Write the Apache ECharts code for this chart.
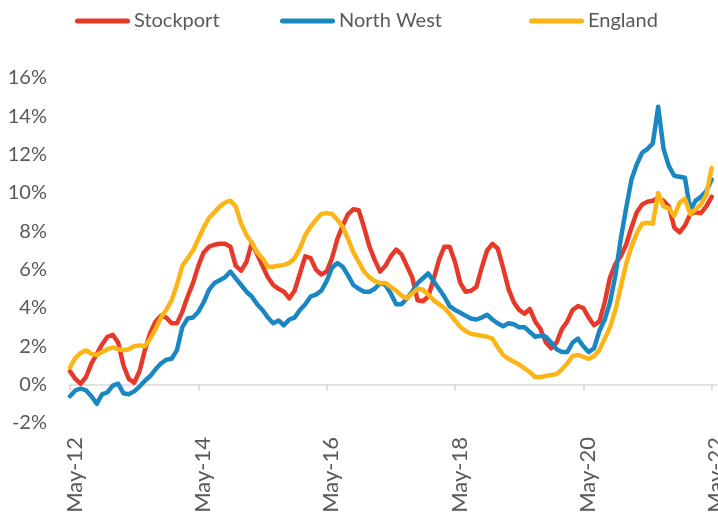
<!DOCTYPE html>
<html>
<head>
<meta charset="utf-8">
<script src="https://cdn.jsdelivr.net/npm/echarts@6/dist/echarts.min.js"></script>
<style>
html,body{margin:0;padding:0;background:#fff;}
#chart{width:718px;height:513px;}
</style>
</head>
<body>
<div id="chart"></div>
<script>
// Month categories May-12 .. Jun-22 (last one is an empty slot at the plot edge)
const monthNames = ['Jan','Feb','Mar','Apr','May','Jun','Jul','Aug','Sep','Oct','Nov','Dec'];
const categories = [];
for (let k = 0; k < 122; k++) {
  const m = (4 + k) % 12;
  const y = 12 + Math.floor((4 + k) / 12);
  categories.push(monthNames[m] + '-' + y);
}

const seriesNames = ['Stockport', 'North West', 'England'];

const stockport = [
  0.7, 0.3, 0.05, 0.4, 1.1, 1.6, 2.1, 2.5, 2.6, 2.2,
  1.0, 0.3, 0.1, 0.7, 1.8, 2.7, 3.3, 3.6, 3.5, 3.2,
  3.2, 3.8, 4.6, 5.3, 6.2, 6.9, 7.2, 7.3, 7.35, 7.35,
  7.2, 6.2, 5.95, 6.4, 7.4, 6.8, 6.2, 5.6, 5.2, 5.0,
  4.85, 4.5, 4.9, 5.8, 6.7, 6.6, 6.0, 5.75, 5.9, 6.6,
  7.6, 8.3, 8.9, 9.15, 9.1, 8.2, 7.2, 6.5, 5.9, 6.2,
  6.7, 7.05, 6.8, 6.2, 5.6, 4.4, 4.35, 4.6, 5.5, 6.5,
  7.2, 7.2, 6.4, 5.3, 4.85, 4.9, 5.1, 6.1, 7.0, 7.35,
  7.1, 6.1, 5.0, 4.3, 3.9, 3.7, 3.95, 3.3, 2.9, 2.2,
  1.9, 2.2, 2.9, 3.3, 3.9, 4.1, 4.0, 3.5, 3.1, 3.3,
  4.3, 5.6, 6.3, 6.7, 7.3, 8.2, 9.0, 9.4, 9.55, 9.6,
  9.75, 9.6, 9.3, 8.2, 7.95, 8.3, 8.9, 9.0, 8.95, 9.3,
  9.8
];

const northWest = [
  -0.6, -0.3, -0.2, -0.3, -0.6, -1.0, -0.5, -0.4, -0.05, 0.05,
  -0.45, -0.5, -0.35, -0.1, 0.2, 0.45, 0.8, 1.1, 1.3, 1.35,
  1.8, 3.0, 3.45, 3.5, 3.8, 4.3, 4.95, 5.3, 5.45, 5.6,
  5.9, 5.55, 5.2, 4.85, 4.6, 4.2, 3.9, 3.5, 3.2, 3.35,
  3.1, 3.4, 3.5, 3.9, 4.2, 4.6, 4.7, 4.9, 5.4, 6.1,
  6.35, 6.15, 5.7, 5.2, 5.0, 4.85, 4.85, 5.0, 5.3, 5.2,
  4.75, 4.2, 4.2, 4.5, 4.85, 5.3, 5.55, 5.8, 5.4, 5.0,
  4.6, 4.1, 3.9, 3.75, 3.6, 3.45, 3.4, 3.5, 3.65, 3.4,
  3.2, 3.05, 3.2, 3.15, 3.0, 3.0, 2.75, 2.5, 2.55, 2.5,
  2.2, 1.85, 1.7, 1.7, 2.2, 2.4, 2.0, 1.7, 1.9, 2.8,
  3.4, 4.3, 5.7, 7.6, 9.2, 10.7, 11.5, 12.1, 12.3, 12.6,
  14.5, 12.3, 11.4, 10.9, 10.85, 10.8, 9.1, 9.6, 9.8, 10.1,
  10.7
];

const england = [
  0.9, 1.4, 1.65, 1.8, 1.6, 1.55, 1.7, 1.85, 1.95, 1.85,
  1.8, 1.85, 2.0, 2.05, 2.0, 2.4, 2.9, 3.5, 3.9, 4.4,
  5.2, 6.2, 6.6, 7.0, 7.6, 8.2, 8.7, 9.0, 9.3, 9.5,
  9.6, 9.3, 8.4, 7.8, 7.4, 6.9, 6.6, 6.15, 6.15, 6.2,
  6.25, 6.35, 6.6, 7.1, 7.8, 8.25, 8.6, 8.9, 8.95, 8.9,
  8.6, 8.25, 7.6, 6.9, 6.4, 5.9, 5.6, 5.4, 5.3, 5.3,
  5.1, 4.9, 4.65, 4.5, 4.75, 5.0, 4.95, 4.7, 4.4, 4.2,
  4.0, 3.7, 3.35, 3.0, 2.8, 2.65, 2.6, 2.55, 2.5, 2.4,
  1.95, 1.55, 1.35, 1.2, 1.05, 0.85, 0.65, 0.4, 0.4, 0.45,
  0.5, 0.55, 0.8, 1.1, 1.5, 1.55, 1.45, 1.35, 1.5, 1.8,
  2.4, 3.0, 3.9, 5.1, 6.3, 7.2, 7.9, 8.4, 8.45, 8.4,
  10.0, 9.3, 9.2, 8.8, 9.5, 9.7, 8.9, 9.15, 9.4, 9.9,
  11.3
];

const yMin = -2, yMax = 16, yStep = 2;

const colors = ['#E6392A', '#1A87C2', '#FCB416'];
const textColor = '#595959';
const fontFamily = 'Lato, "Open Sans", sans-serif';

const chart = echarts.init(document.getElementById('chart'), null, {renderer: 'canvas'});

const legendIcon = 'path://M2.5,0 L52.5,0 A2.5,2.5 0 0 1 52.5,5 L2.5,5 A2.5,2.5 0 0 1 2.5,0 Z';
const legendLefts = [75, 280, 529];

const option = {
  animation: false,
  backgroundColor: '#ffffff',
  color: colors,
  textStyle: {fontFamily: fontFamily},
  legend: seriesNames.map((n, i) => ({
    data: [n],
    left: legendLefts[i],
    top: 11,
    padding: 0,
    icon: legendIcon,
    itemWidth: 55,
    itemHeight: 5,
    selectedMode: false,
    textStyle: {color: textColor, fontSize: 20, fontFamily: fontFamily, padding: [0, 0, 0, -1]}
  })),
  grid: {left: 70, right: 1, top: 78, bottom: 90, containLabel: false, outerBoundsMode: 'none'},
  xAxis: [
    {
      type: 'category',
      data: categories,
      boundaryGap: false,
      axisLine: {show: true, onZero: true, lineStyle: {color: '#d9d9d9', width: 1.5}},
      axisTick: {show: true, interval: 23, length: 6, lineStyle: {color: '#d9d9d9', width: 1.5}},
      axisLabel: {show: false},
      splitLine: {show: false}
    },
    {
      type: 'category',
      data: categories,
      boundaryGap: false,
      position: 'bottom',
      axisLine: {show: false, onZero: false},
      axisTick: {show: false},
      splitLine: {show: false},
      axisLabel: {
        show: true,
        interval: 23,
        rotate: 90,
        margin: 14,
        formatter: v => '{a|' + v + '}',
        rich: {
          a: {
            padding: [9, 0, 0, 0],
            color: textColor,
            fontSize: 22,
            fontFamily: fontFamily
          }
        },
        color: textColor,
        fontSize: 22,
        fontFamily: fontFamily
      }
    }
  ],
  yAxis: {
    type: 'value',
    min: yMin,
    max: yMax,
    interval: yStep,
    axisLine: {show: false},
    axisTick: {show: false},
    splitLine: {show: false},
    axisLabel: {
      formatter: '{value}%',
      color: textColor,
      fontSize: 20,
      fontFamily: fontFamily,
      margin: 23
    }
  },
  series: [
    {name: seriesNames[0], type: 'line', data: stockport},
    {name: seriesNames[1], type: 'line', data: northWest},
    {name: seriesNames[2], type: 'line', data: england}
  ].map((s, i) => Object.assign(s, {
    xAxisIndex: 0,
    showSymbol: false,
    symbol: 'none',
    smooth: false,
    lineStyle: {width: 4.5, color: colors[i], cap: 'round', join: 'round'},
    itemStyle: {color: colors[i]}
  }))
};

chart.setOption(option);
</script>
</body>
</html>
